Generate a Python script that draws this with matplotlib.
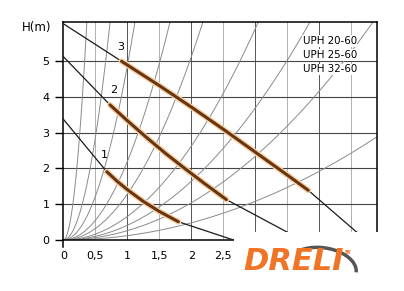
import matplotlib
matplotlib.use("Agg")
import matplotlib.pyplot as plt
import numpy as np
from matplotlib.patches import Rectangle, Arc

plt.rcParams["font.family"] = "DejaVu Sans"

# pump curves (Q, H)
q1 = [0, 0.68, 0.85, 1.0, 1.25, 1.5, 1.8, 2.66]
h1 = [3.38, 1.91, 1.63, 1.41, 1.08, 0.8, 0.51, 0.0]
q2 = [0, 0.73, 1.0, 1.3, 1.6, 1.9, 2.2, 2.55, 3.49, 3.75]
h2 = [5.13, 3.78, 3.34, 2.87, 2.42, 2.0, 1.59, 1.13, 0.23, 0.0]
q3 = [0, 0.91, 1.5, 2.0, 2.5, 3.0, 3.5, 3.83, 4.58, 4.78]
h3 = [6.05, 5.0, 4.32, 3.72, 3.1, 2.46, 1.82, 1.39, 0.23, 0.0]
# working range (thick part) of each speed
work = [(0.68, 1.8), (0.73, 2.55), (0.91, 3.83)]

# system curves H = k*Q^2
k_sys = [45, 11.4, 4.86, 2.19, 1.28, 0.656, 0.41, 0.26, 0.12]

models = ["UPH 20-60", "UPH 25-60", "UPH 32-60"]
speed_labels = ["1", "2", "3"]
label_pos = [(0.64, 2.38), (0.78, 4.2), (0.9, 5.4)]

x_ticks = [0, 0.5, 1, 1.5, 2, 2.5]
x_tick_labels = ["0", "0,5", "1", "1,5", "2", "2,5"]
y_ticks = [0, 1, 2, 3, 4, 5]

fig = plt.figure(figsize=(4.04, 2.91), dpi=100)
ax = fig.add_axes([0.1567, 0.1753, 0.9324 - 0.1567, 0.9234 - 0.1753])
ax.set_xlim(0, 4.9)
ax.set_ylim(0, 6.09)

# grid
for xv in np.arange(0.5, 4.9, 0.5):
    c = "#555555" if xv % 1 == 0 else "#b0b0b0"
    ax.axvline(xv, color=c, lw=0.7, zorder=1)
for yv in range(1, 6):
    ax.axhline(yv, color="#444444", lw=0.8, zorder=1)

qq = np.linspace(0, 5, 300)
for k in k_sys:
    ax.plot(qq, k * qq ** 2, color="#8a8a8a", lw=0.7, zorder=2)

for (q, h), (a, b) in zip([(q1, h1), (q2, h2), (q3, h3)], work):
    q = np.array(q)
    h = np.array(h)
    ax.plot(q, h, color="#1a1a1a", lw=0.9, zorder=3)
    m = (q >= a) & (q <= b)
    ax.plot(q[m], h[m], color="#f6cfa4", lw=4.2, solid_capstyle="round", zorder=4)
    ax.plot(q[m], h[m], color="#673510", lw=2.2, solid_capstyle="round", zorder=5)

for s, (x, y) in zip(speed_labels, label_pos):
    ax.text(x, y, s, fontsize=8, ha="center", va="center", zorder=6)

for i, name in enumerate(models):
    ax.text(3.74, 5.57 - i * 0.4, name, fontsize=7.4, ha="left", va="center",
            zorder=6, bbox=dict(facecolor="white", edgecolor="none", pad=0.5))

for sp in ax.spines.values():
    sp.set_color("black")
    sp.set_linewidth(1.1)

ax.set_xticks(x_ticks)
ax.set_xticklabels(x_tick_labels)
ax.set_yticks(y_ticks)
ax.tick_params(axis="x", length=0, pad=8, labelsize=8)
ax.tick_params(axis="y", length=6, width=1, direction="out", pad=4, labelsize=8)
ax.plot([0, 0], [0, -0.2], color="black", lw=1.1, clip_on=False)

fig.text(37 / 404, 1 - 28 / 291, "H(m)", fontsize=8.5, ha="center", va="center")

# logo area
fig.patches.append(Rectangle((234 / 404, 0), 1, 59 / 291, transform=fig.transFigure,
                             facecolor="white", edgecolor="none", zorder=5))
fig.patches.append(Arc((322 / 404, 1 - 268 / 291), 70 / 404, 40 / 291, angle=-20,
                       theta1=10, theta2=150, transform=fig.transFigure,
                       color="#555555", lw=2.5, zorder=6))
fig.text(294 / 404, 1 - 262 / 291, "DRELI", fontsize=22, fontweight="bold",
         style="italic", color="#ef7425", ha="center", va="center", zorder=7)
fig.text(348 / 404, 1 - 252 / 291, "BY", fontsize=3.5, fontweight="bold",
         color="#ef7425", ha="center", va="center", zorder=7)

fig.savefig("out.png", dpi=100)
